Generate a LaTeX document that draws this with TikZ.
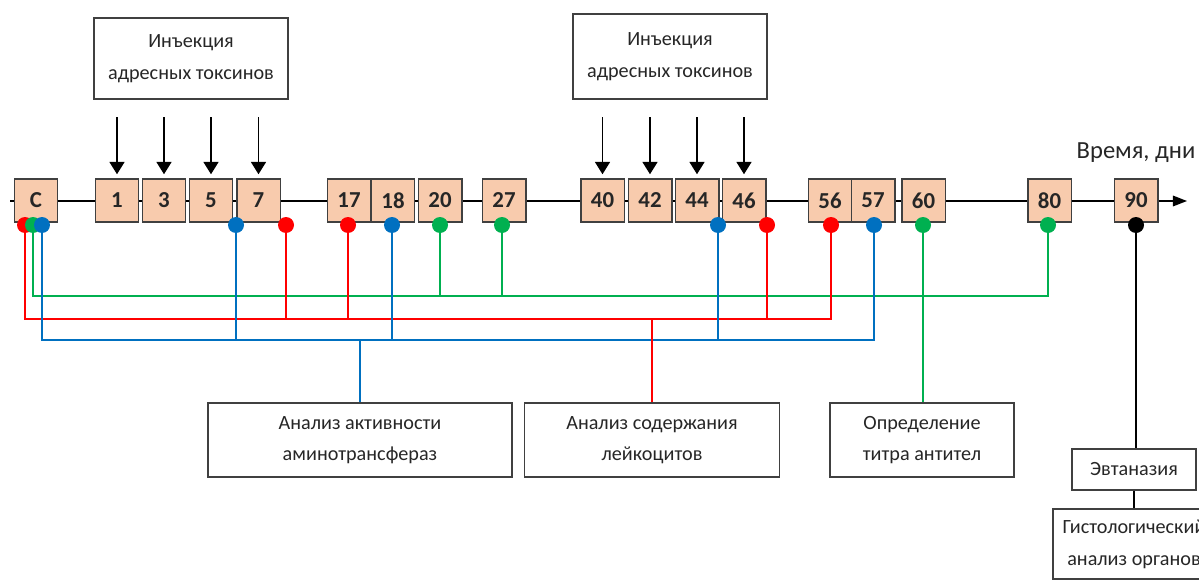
\documentclass[tikz,border=0pt]{standalone}
\usepackage{fontspec}
\setmainfont{Carlito}
\usetikzlibrary{arrows.meta}
\definecolor{peach}{HTML}{F8CBAD}
\definecolor{rline}{HTML}{FF0000}
\definecolor{gline}{HTML}{00B050}
\definecolor{bline}{HTML}{0070C0}
\definecolor{frame}{HTML}{404040}
\begin{document}
\begin{tikzpicture}[x=0.02cm,y=-0.02cm,
day/.style={draw=frame,line width=0.85pt,fill=peach,minimum width=0.87cm,minimum height=0.86cm,inner sep=0pt,text=black!85,font=\fontsize{13}{13}\selectfont\bfseries},
lbl/.style={draw=frame,line width=0.85pt,align=center,inner sep=0pt,text=black!85,font=\fontsize{11.5}{18}\selectfont},
dot/.style={circle,inner sep=0pt,minimum size=0.32cm},
wire/.style={line width=1.1pt},
inj/.style={line width=0.85pt,-{Triangle[width=8.5pt,length=7pt]}},
axis/.style={line width=0.9pt,-{Triangle[width=6pt,length=8pt]}}]
\useasboundingbox(0,0)rectangle(1199,581);
\clip(0,0)rectangle(1199,581);
% time axis
\coordinate(t0)at(10,201);
\coordinate(t1)at(1187,201);
\draw[axis](t0)--(t1);
\foreach\d/\x in{C/36,1/117,3/164,5/211,7/258.5,17/349,18/393,20/440,27/504,40/602.5,42/650,44/697,46/744,56/830,57/873,60/923.5,80/1049.5,90/1136}
\node[day](d\d)at(\x,200.5){\d};
\node[text=black!85,font=\fontsize{14}{14}\selectfont](time)at(1136,153){Время, дни};
% injections
\node[lbl,minimum width=3.88cm,minimum height=1.62cm](inj1)at(191,58.5){Инъекция\\адресных токсинов};
\node[lbl,minimum width=3.88cm,minimum height=1.7cm](inj2)at(670,56.5){Инъекция\\адресных токсинов};
\foreach\d in{1,3,5,7,40,42,44,46}
\draw[inj]([yshift=1.22cm]d\d.north)--([yshift=0.08cm]d\d.north);
% analyses
\node[lbl,minimum width=6.08cm,minimum height=1.48cm](act)at(360,440){Анализ активности\\аминотрансфераз};
\node[lbl,minimum width=5.1cm,minimum height=1.48cm](leuk)at(652,440){Анализ содержания\\лейкоцитов};
\node[lbl,minimum width=3.68cm,minimum height=1.48cm](titr)at(922,440){Определение\\титра антител};
\node[lbl,minimum width=2.48cm,minimum height=0.82cm](evt)at(1134,469.5){Эвтаназия};
\node[lbl,minimum width=3.24cm,minimum height=1.4cm](hist)at(1134,544){Гистологический\\анализ органов};
% sampling points
\foreach\n/\x in{C/25,7/286,17/348,46/767,56/831}\node[dot,fill=rline](r\n)at(\x,225){};
\foreach\n/\x in{C/33,20/440,27/502,60/923,80/1048}\node[dot,fill=gline](g\n)at(\x,225){};
\foreach\n/\x in{C/42,5/236,18/392,44/718,57/874}\node[dot,fill=bline](b\n)at(\x,225){};
\node[dot,fill=black](k90)at(1136,225){};
\coordinate(gbus)at(0,296);
\coordinate(rbus)at(0,319);
\coordinate(bbus)at(0,340);
\draw[wire,gline](gC.south)|-(gbus-|g80)--(g80.south);
\foreach\n in{20,27}\draw[wire,gline](g\n.south)--(g\n|-gbus);
\draw[wire,gline](g60.south)--(g60|-titr.north);
\draw[wire,rline](rC.south)|-(rbus-|r56)--(r56.south);
\foreach\n in{7,17,46}\draw[wire,rline](r\n.south)--(r\n|-rbus);
\draw[wire,bline](bC.south)|-(bbus-|b57)--(b57.south);
\foreach\n in{5,18,44}\draw[wire,bline](b\n.south)--(b\n|-bbus);
\draw[wire,bline](bbus-|act.north)--(act.north);
\draw[wire,rline](rbus-|leuk.north)--(leuk.north);
\draw[wire](k90.south)--(k90|-evt.north);
\draw[wire](evt.south)--(hist.north);
\end{tikzpicture}
\end{document}
